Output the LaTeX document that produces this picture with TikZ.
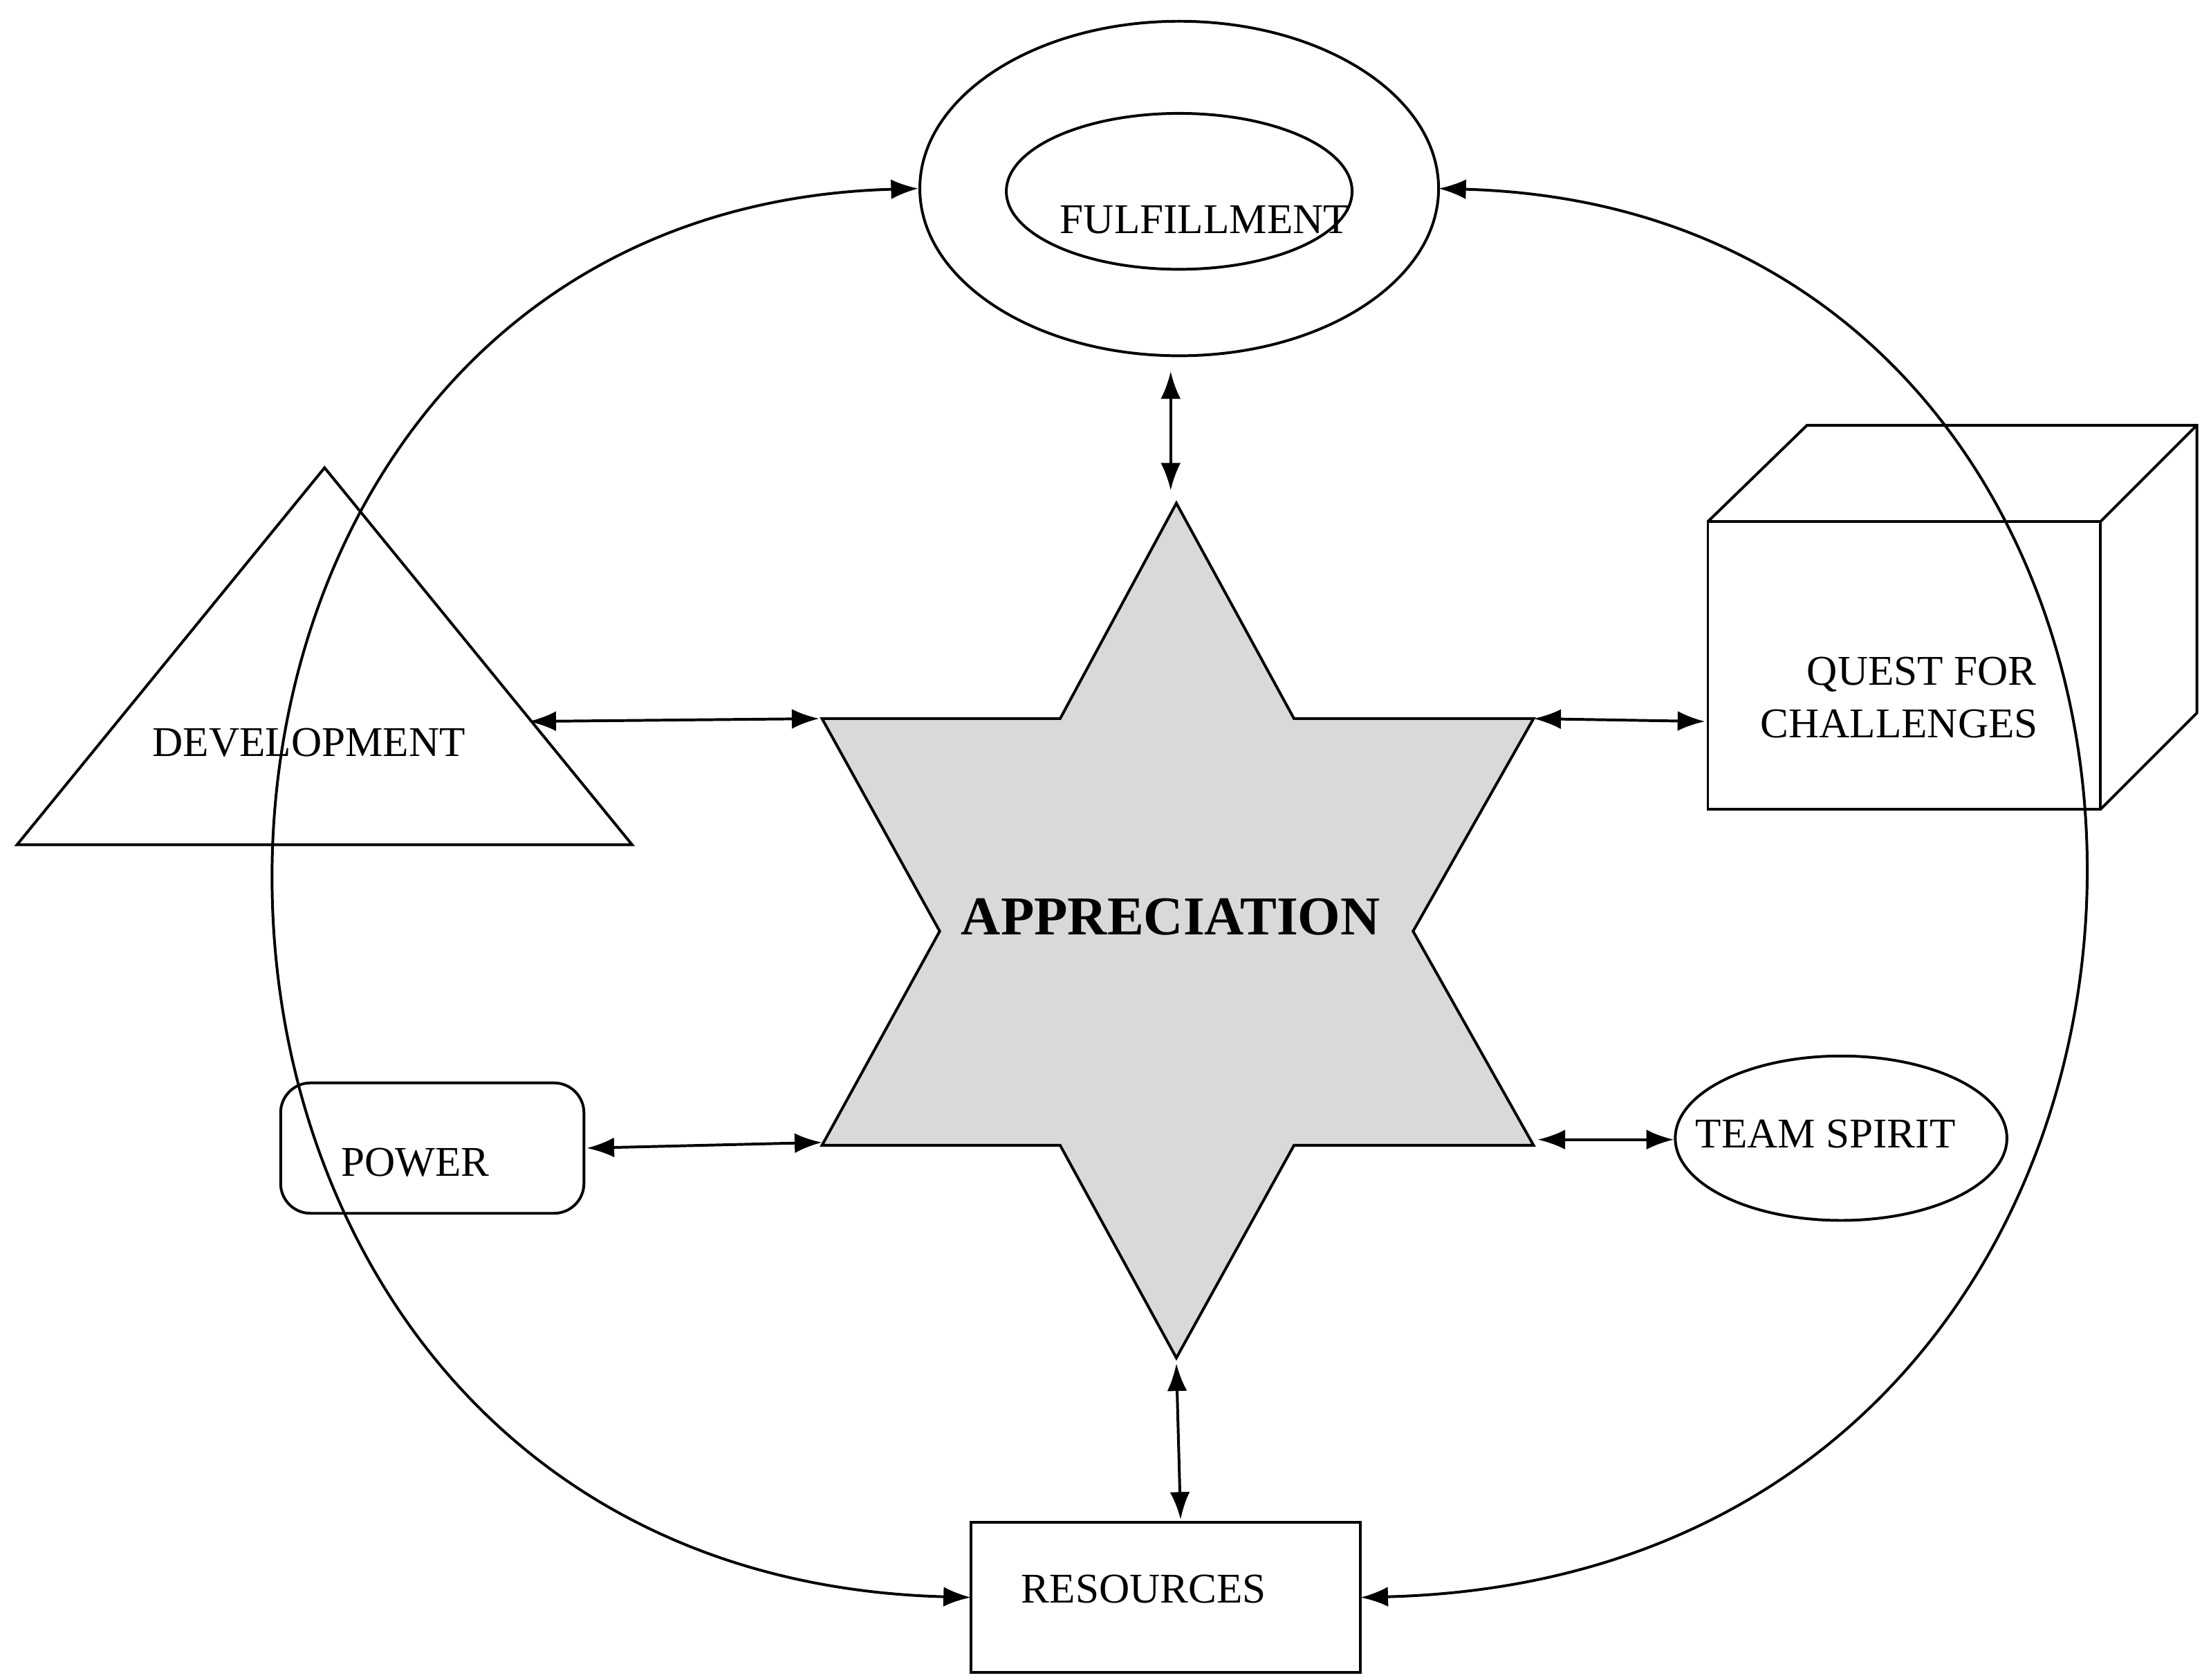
\documentclass[tikz,border=0pt]{standalone}
\usepackage{fontspec}
\setmainfont{Liberation Serif}
\usetikzlibrary{arrows.meta}
\begin{document}
\begin{tikzpicture}[x=0.02cm,y=-0.02cm,line width=1.1pt,
  lbl/.style={font=\fontsize{17}{20}\selectfont,align=center,inner sep=0},
  arr/.style={{Latex[length=11pt,width=8pt]}-{Latex[length=11pt,width=8pt]}}]
\useasboundingbox (0,0) rectangle (1560,1185);
% fulfillment
\draw (832,133) ellipse [x radius=183,y radius=118];
\draw (832,135) ellipse [x radius=122,y radius=55];
\node[lbl] (ful) at (850,155) {FULFILLMENT};
% star
\draw[fill={rgb,255:red,217;green,217;blue,217}] (830,355) -- (913,507) -- (1082,507) -- (997,657) -- (1082,808) -- (913,808) -- (830,958) -- (748,808) -- (580,808) -- (663,657) -- (580,507) -- (748,507) -- cycle;
\node[lbl,font=\fontsize{22}{26}\selectfont\bfseries] (app) at (826,647) {APPRECIATION};
% triangle
\draw (12,596) -- (229,330) -- (446,596) -- cycle;
\node[lbl] (dev) at (218,524) {DEVELOPMENT};
% cube
\draw (1205,368) rectangle (1482,571);
\draw (1205,368) -- (1275,300) -- (1550,300) -- (1550,503) -- (1482,571);
\draw (1482,368) -- (1550,300);
\node[lbl,align=left] (qfc) at (1340,492) {\hspace*{1.1em}QUEST FOR\\[1pt]CHALLENGES};
% power
\draw[rounded corners=12pt] (198,764) rectangle (412,856);
\node[lbl] (pow) at (293,820) {POWER};
% team spirit
\draw (1299,803) ellipse [x radius=117,y radius=58];
\node[lbl] (tea) at (1288,800) {TEAM SPIRIT};
% resources
\draw (685,1074) rectangle (960,1180);
\node[lbl] (res) at (807,1121) {RESOURCES};
% coordinates
\coordinate (ful-l) at (648,133); \coordinate (ful-r) at (1015,133);
\coordinate (res-l) at (685,1127); \coordinate (res-r) at (960,1127);
\coordinate (ful-b) at (826,262); \coordinate (st-t) at (826,346);
\coordinate (dev-r) at (373,509); \coordinate (st-ul) at (578,507);
\coordinate (st-ur) at (1082,507); \coordinate (qfc-l) at (1203,509);
\coordinate (pow-r) at (414,810); \coordinate (st-ll) at (580,806);
\coordinate (st-lr) at (1085,804); \coordinate (tea-l) at (1181,804);
\coordinate (st-b) at (830,962); \coordinate (res-t) at (833,1072);
% connectors
\draw[arr] (ful-l) .. controls (40,150) and (40,1110) .. (res-l);
\draw[arr] (ful-r) .. controls (1628,150) and (1628,1110) .. (res-r);
\draw[arr] (ful-b) -- (st-t);
\draw[arr] (dev-r) -- (st-ul);
\draw[arr] (st-ur) -- (qfc-l);
\draw[arr] (pow-r) -- (st-ll);
\draw[arr] (st-lr) -- (tea-l);
\draw[arr] (st-b) -- (res-t);
\end{tikzpicture}
\end{document}
